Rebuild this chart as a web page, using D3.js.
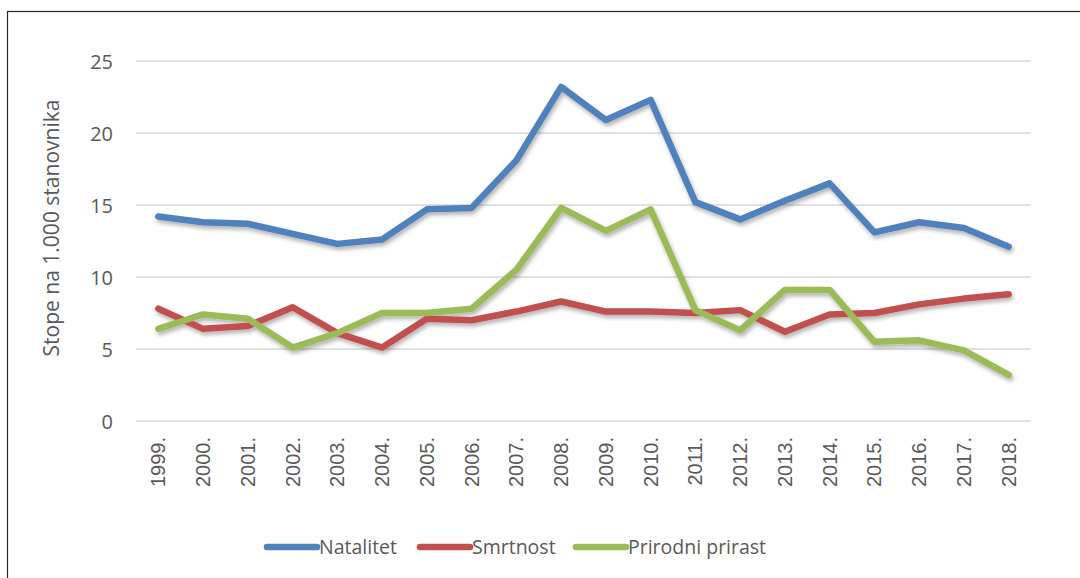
<!DOCTYPE html>
<html>
<head>
<meta charset="utf-8">
<script src="https://cdn.jsdelivr.net/npm/d3@7"></script>
<style>
  body { margin: 0; background: #fff; }
  svg { display: block; }
  .tick text { fill: #595959; }
</style>
</head>
<body>
<svg id="chart" width="1080" height="578"></svg>
<script>
const years = ["1999.", "2000.", "2001.", "2002.", "2003.", "2004.", "2005.", "2006.", "2007.", "2008.",
  "2009.", "2010.", "2011.", "2012.", "2013.", "2014.", "2015.", "2016.", "2017.", "2018."];
const natalitet = [14.2, 13.8, 13.7, 13.0, 12.3, 12.6, 14.7, 14.8, 18.1, 23.2,
  20.9, 22.3, 15.2, 14.0, 15.3, 16.5, 13.1, 13.8, 13.4, 12.1];
const smrtnost = [7.8, 6.4, 6.6, 7.9, 6.1, 5.1, 7.1, 7.0, 7.6, 8.3,
  7.6, 7.6, 7.5, 7.7, 6.2, 7.4, 7.5, 8.1, 8.5, 8.8];
const prirast = [6.4, 7.4, 7.1, 5.1, 6.1, 7.5, 7.5, 7.8, 10.5, 14.8,
  13.2, 14.7, 7.7, 6.3, 9.1, 9.1, 5.5, 5.6, 4.9, 3.2];
const yTicks = [0, 5, 10, 15, 20, 25];

const series = [
  {name: "Natalitet", values: natalitet, color: "#4F81BD"},
  {name: "Smrtnost", values: smrtnost, color: "#C0504D"},
  {name: "Prirodni prirast", values: prirast, color: "#9BBB59"}
];

const svg = d3.select("#chart");
const font = "'Open Sans', sans-serif";

// outer frame (right/bottom edges fall outside the picture)
svg.append("rect")
  .attr("x", 7.5).attr("y", 11.5)
  .attr("width", 1200).attr("height", 700)
  .attr("fill", "none").attr("stroke", "#262626").attr("stroke-width", 1.2);

const x = d3.scaleBand().domain(years).range([136, 1031]);
const y = d3.scaleLinear().domain([0, 25]).range([421, 61]);

// shadow under the lines
const defs = svg.append("defs");
const f = defs.append("filter").attr("id", "shadow")
  .attr("x", "-5%").attr("y", "-20%").attr("width", "110%").attr("height", "140%");
f.append("feDropShadow")
  .attr("dx", 1.5).attr("dy", 3).attr("stdDeviation", 2)
  .attr("flood-color", "#000").attr("flood-opacity", 0.3);

// gridlines
svg.append("g")
  .selectAll("line")
  .data(yTicks)
  .enter()
  .append("line")
  .attr("x1", 136).attr("x2", 1031)
  .attr("y1", d => y(d)).attr("y2", d => y(d))
  .attr("stroke", "#d9d9d9").attr("stroke-width", 1.5);

// y axis labels
const yAxis = svg.append("g")
  .attr("transform", "translate(113,0)")
  .call(d3.axisLeft(y).tickValues(yTicks).tickSize(0).tickPadding(0));
yAxis.select(".domain").remove();
yAxis.selectAll("text")
  .attr("font-family", font).attr("font-size", 20).attr("dy", "0.35em");

// x axis labels
const xAxis = svg.append("g")
  .attr("transform", "translate(0,421)")
  .call(d3.axisBottom(x).tickSize(0));
xAxis.select(".domain").remove();
xAxis.selectAll("text")
  .attr("font-family", "'Liberation Sans', Arial, sans-serif")
  .attr("font-size", 20)
  .attr("text-anchor", "end")
  .attr("transform", "rotate(-90)")
  .attr("x", -16).attr("y", 0).attr("dy", "0.35em");

// y axis title
svg.append("text")
  .attr("transform", "translate(59,228) rotate(-90)")
  .attr("text-anchor", "middle")
  .attr("font-family", font).attr("font-size", 21)
  .attr("fill", "#595959")
  .text("Stope na 1.000 stanovnika");

const line = d3.line()
  .x((d, i) => x(years[i]) + x.bandwidth() / 2)
  .y(d => y(d));

svg.append("g")
  .attr("filter", "url(#shadow)")
  .selectAll("path")
  .data(series)
  .enter()
  .append("path")
  .attr("d", d => line(d.values))
  .attr("fill", "none")
  .attr("stroke", d => d.color)
  .attr("stroke-width", 6.5)
  .attr("stroke-linejoin", "round")
  .attr("stroke-linecap", "round");

// legend
const legendX = [267, 420, 576];
const legend = svg.append("g")
  .selectAll("g")
  .data(series)
  .enter()
  .append("g")
  .attr("transform", (d, i) => `translate(${legendX[i]},547)`);
legend.append("line")
  .attr("x1", 0).attr("x2", 50)
  .attr("stroke", d => d.color)
  .attr("stroke-width", 6.5)
  .attr("stroke-linecap", "round");
legend.append("text")
  .attr("x", 52).attr("dy", "0.35em")
  .attr("font-family", font).attr("font-size", 19.5)
  .attr("fill", "#595959")
  .text(d => d.name);
</script>
</body>
</html>
